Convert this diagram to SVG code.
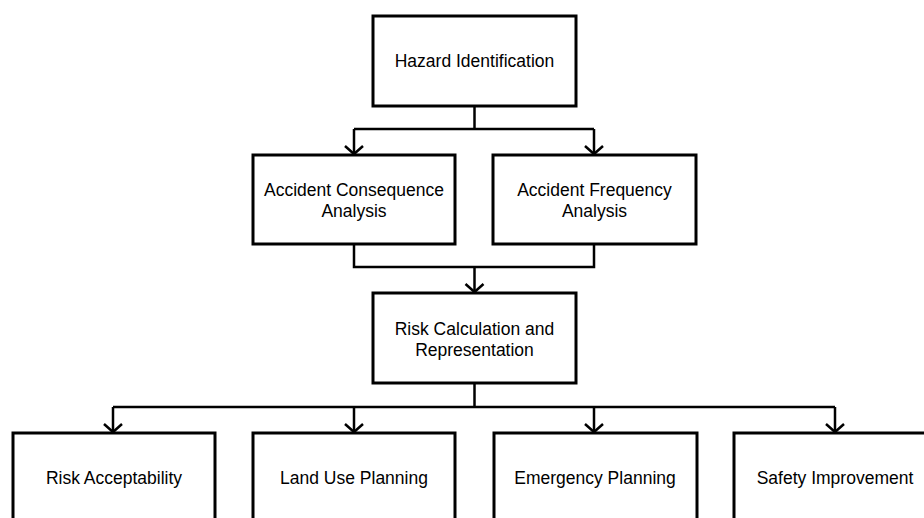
<svg xmlns="http://www.w3.org/2000/svg" width="924" height="518" viewBox="0 0 924 518">
<defs>
<style>
.box{fill:#fff;stroke:#000;stroke-width:3}
.t{font-family:"Liberation Sans",Arial,sans-serif;font-size:17.5px;fill:#000;text-anchor:middle}
.c{fill:none;stroke:#000;stroke-width:2.5}
.ah{fill:none;stroke:#000;stroke-width:2.5}
</style>
</defs>
<rect width="924" height="518" fill="#fff"/>
<g id="connectors">
<path class="c" d="M474.5 106 V129"/>
<path class="c" d="M354 129 H594"/>
<path class="c" d="M354 129 V154"/>
<path class="c" d="M594 129 V154"/>
<path class="c" d="M354 244 V267 H594 V244"/>
<path class="c" d="M474.5 267 V292"/>
<path class="c" d="M474.5 383 V407"/>
<path class="c" d="M113 407 H835"/>
<path class="c" d="M113 407 V432"/>
<path class="c" d="M354 407 V432"/>
<path class="c" d="M594 407 V432"/>
<path class="c" d="M835 407 V432"/>
<path class="ah" d="M345 146 L354 154 L363 146"/>
<path class="ah" d="M585 146 L594 154 L603 146"/>
<path class="ah" d="M465.5 284 L474.5 292 L483.5 284"/>
<path class="ah" d="M104 424 L113 432 L122 424"/>
<path class="ah" d="M345 424 L354 432 L363 424"/>
<path class="ah" d="M585 424 L594 432 L603 424"/>
<path class="ah" d="M826 424 L835 432 L844 424"/>
</g>
<g id="hazard">
<rect class="box" x="373" y="16" width="203" height="90"/>
<text class="t" x="474.5" y="67">Hazard Identification</text>
</g>
<g id="consequence">
<rect class="box" x="253" y="155" width="202" height="89"/>
<text class="t" x="354" y="196">Accident Consequence</text>
<text class="t" x="354" y="217">Analysis</text>
</g>
<g id="frequency">
<rect class="box" x="493" y="155" width="203" height="89"/>
<text class="t" x="594.5" y="196">Accident Frequency</text>
<text class="t" x="594.5" y="217">Analysis</text>
</g>
<g id="risk">
<rect class="box" x="373" y="293" width="203" height="90"/>
<text class="t" x="474.5" y="334.5">Risk Calculation and</text>
<text class="t" x="474.5" y="355.5">Representation</text>
</g>
<g id="acceptability">
<rect class="box" x="13" y="433" width="202" height="95"/>
<text class="t" x="114" y="484">Risk Acceptability</text>
</g>
<g id="landuse">
<rect class="box" x="253" y="433" width="202" height="95"/>
<text class="t" x="354" y="484">Land Use Planning</text>
</g>
<g id="emergency">
<rect class="box" x="494" y="433" width="203" height="95"/>
<text class="t" x="595" y="484">Emergency Planning</text>
</g>
<g id="safety">
<rect class="box" x="734" y="433" width="203" height="95"/>
<text class="t" x="835" y="484">Safety Improvement</text>
</g>
</svg>
